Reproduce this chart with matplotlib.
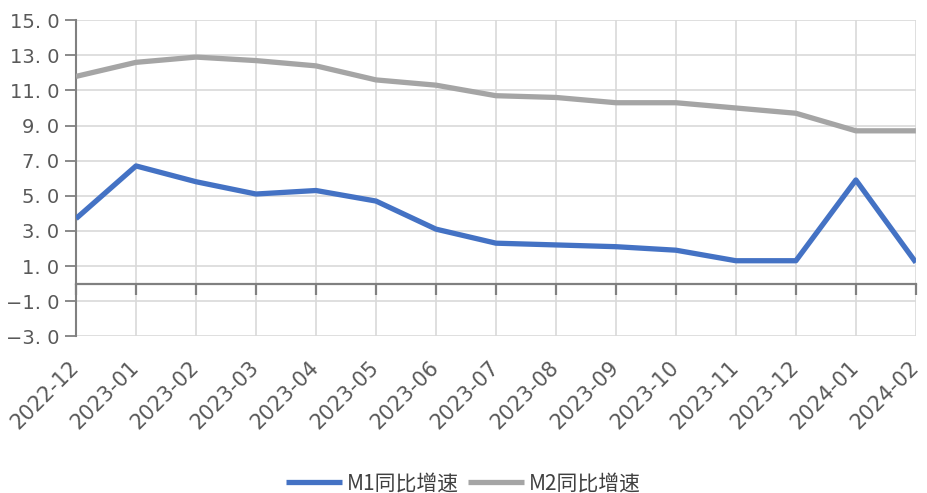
import matplotlib
matplotlib.use("Agg")
import matplotlib.pyplot as plt

plt.rcParams['font.family'] = ['Noto Sans CJK SC', 'DejaVu Sans']

categories = ["2022-12", "2023-01", "2023-02", "2023-03", "2023-04", "2023-05",
              "2023-06", "2023-07", "2023-08", "2023-09", "2023-10", "2023-11",
              "2023-12", "2024-01", "2024-02"]
m1 = [3.7, 6.7, 5.8, 5.1, 5.3, 4.7, 3.1, 2.3, 2.2, 2.1, 1.9, 1.3, 1.3, 5.9, 1.2]
m2 = [11.8, 12.6, 12.9, 12.7, 12.4, 11.6, 11.3, 10.7, 10.6, 10.3, 10.3, 10.0, 9.7, 8.7, 8.7]
yticks = [-3, -1, 1, 3, 5, 7, 9, 11, 13, 15]
series_names = ["M1同比增速", "M2同比增速"]

fig = plt.figure(figsize=(9.27, 4.93), dpi=100)
ax = fig.add_axes([0.082, 0.318, 0.906, 0.641])
x = list(range(len(categories)))

ax.plot(x, m1, color="#4472C4", lw=3.8, label=series_names[0], solid_capstyle='butt', zorder=4)
ax.plot(x, m2, color="#A5A5A5", lw=3.8, label=series_names[1], solid_capstyle='butt', zorder=3)

ax.set_xlim(0, len(categories) - 1)
ax.set_ylim(-3, 15)
ax.set_yticks(yticks)
ax.set_yticklabels([(f"{v:.1f}".replace("-", "−")).replace(".", ". ") for v in yticks],
                   fontsize=14, color="#595959", family=['DejaVu Sans'])
ax.grid(True, color="#D9D9D9", lw=1.2, zorder=0)
ax.set_axisbelow(True)

for s in ['top', 'right']:
    ax.spines[s].set_visible(False)
ax.spines['left'].set_color("#808080")
ax.spines['left'].set_linewidth(1.5)
ax.spines['bottom'].set_position(('data', 0))
ax.spines['bottom'].set_color("#808080")
ax.spines['bottom'].set_linewidth(1.6)
ax.tick_params(axis='y', length=8, width=1.3, color="#808080", direction='out', pad=4)
ax.set_xticks(x)
ax.tick_params(axis='x', length=8, width=1.6, color="#808080", direction='out', labelbottom=False)

sec = ax.secondary_xaxis(0)
sec.set_xticks(x)
sec.set_xticklabels(categories, rotation=45, ha='right', va='center', rotation_mode='anchor',
                    fontsize=15, color="#595959", family=['DejaVu Sans'])
sec.tick_params(length=0, pad=20)
sec.spines['bottom'].set_visible(False)

fig.legend(loc='center', bbox_to_anchor=(0.5, 0.02), ncol=2, frameon=False,
           prop={'size': 15, 'weight': 'medium'}, handlelength=2.7, handletextpad=0.25,
           columnspacing=0.4, labelcolor="#404040")

fig.savefig("out.png", dpi=100)
